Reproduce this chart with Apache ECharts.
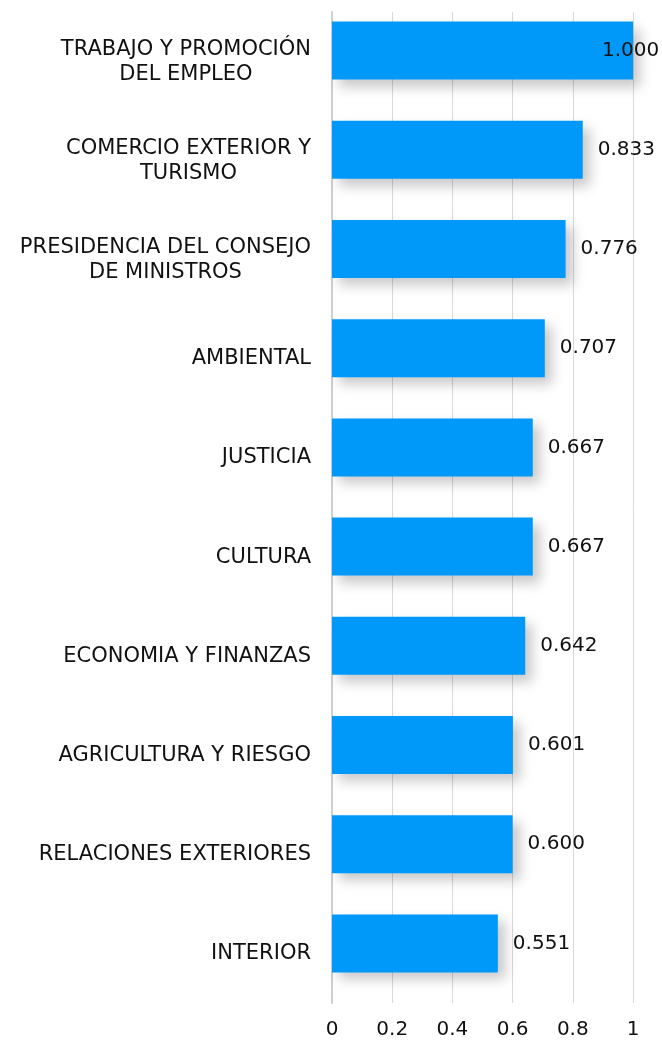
<!DOCTYPE html>
<html>
<head>
<meta charset="utf-8">
<script src="https://cdn.jsdelivr.net/npm/echarts@6/dist/echarts.min.js"></script>
<style>
  html, body { margin: 0; padding: 0; background: #fff; }
  #chart01 { width: 662px; height: 1040px; }
</style>
</head>
<body>
<div id="chart01"></div>
<script>
var categories = [
  'TRABAJO Y PROMOCIÓN\nDEL EMPLEO',
  'COMERCIO EXTERIOR Y\nTURISMO',
  'PRESIDENCIA DEL CONSEJO\nDE MINISTROS',
  'AMBIENTAL',
  'JUSTICIA',
  'CULTURA',
  'ECONOMIA Y FINANZAS',
  'AGRICULTURA Y RIESGO',
  'RELACIONES EXTERIORES',
  'INTERIOR'
];
var values = [1.000, 0.833, 0.776, 0.707, 0.667, 0.667, 0.642, 0.601, 0.600, 0.551];

var font = 'DejaVu Sans';
var textColor = '#111111';

// the full-width bar gets its label pulled back inside the plot
var barData = values.map(function (v) {
  if (v >= 0.95) {
    return { value: v, label: { offset: [-46, 0] } };
  }
  return v;
});

var chart01 = echarts.init(document.getElementById('chart01'), null, { renderer: 'canvas' });

var option_c01 = {
  animation: false,
  grid: [
    { left: 332, right: 29, top: 12, bottom: 36 },
    { left: 332, right: 29, top: 1, bottom: 47 }
  ],
  xAxis: [
    {
      gridIndex: 0,
      type: 'value',
      min: 0,
      max: 1,
      interval: 0.2,
      axisLine: { show: false },
      axisTick: { show: false },
      splitLine: { lineStyle: { color: '#d9d9d9', width: 1 } },
      axisLabel: {
        margin: 17,
        fontFamily: font,
        fontSize: 20,
        color: textColor
      }
    },
    {
      gridIndex: 1,
      type: 'value',
      min: 0,
      max: 1,
      show: false
    }
  ],
  yAxis: [
    {
      gridIndex: 0,
      type: 'category',
      inverse: true,
      data: categories,
      axisLine: { show: true, lineStyle: { color: '#cfcfcf', width: 2 } },
      axisTick: { show: false },
      axisLabel: {
        margin: 21,
        formatter: function (s) {
          return s.split('\n').map(function (l) { return '{c|' + l + '}'; }).join('\n');
        },
        rich: {
          c: {
            align: 'center',
            fontFamily: font,
            fontSize: 21,
            lineHeight: 25,
            color: textColor
          }
        }
      }
    },
    {
      gridIndex: 1,
      type: 'category',
      inverse: true,
      data: categories,
      show: false
    }
  ],
  series: [
    {
      type: 'bar',
      xAxisIndex: 0,
      yAxisIndex: 0,
      data: []
    },
    {
      name: 'valor',
      type: 'bar',
      xAxisIndex: 1,
      yAxisIndex: 1,
      barWidth: 58,
      data: barData,
      itemStyle: {
        color: '#0099fa',
        shadowBlur: 12,
        shadowOffsetX: 7,
        shadowOffsetY: 7,
        shadowColor: 'rgba(0,0,0,0.22)'
      },
      label: {
        show: true,
        position: 'right',
        distance: 15,
        fontFamily: font,
        fontSize: 20,
        color: textColor,
        formatter: function (p) { return p.value.toFixed(3); }
      }
    }
  ]
};

chart01.setOption(option_c01);
</script>
</body>
</html>
